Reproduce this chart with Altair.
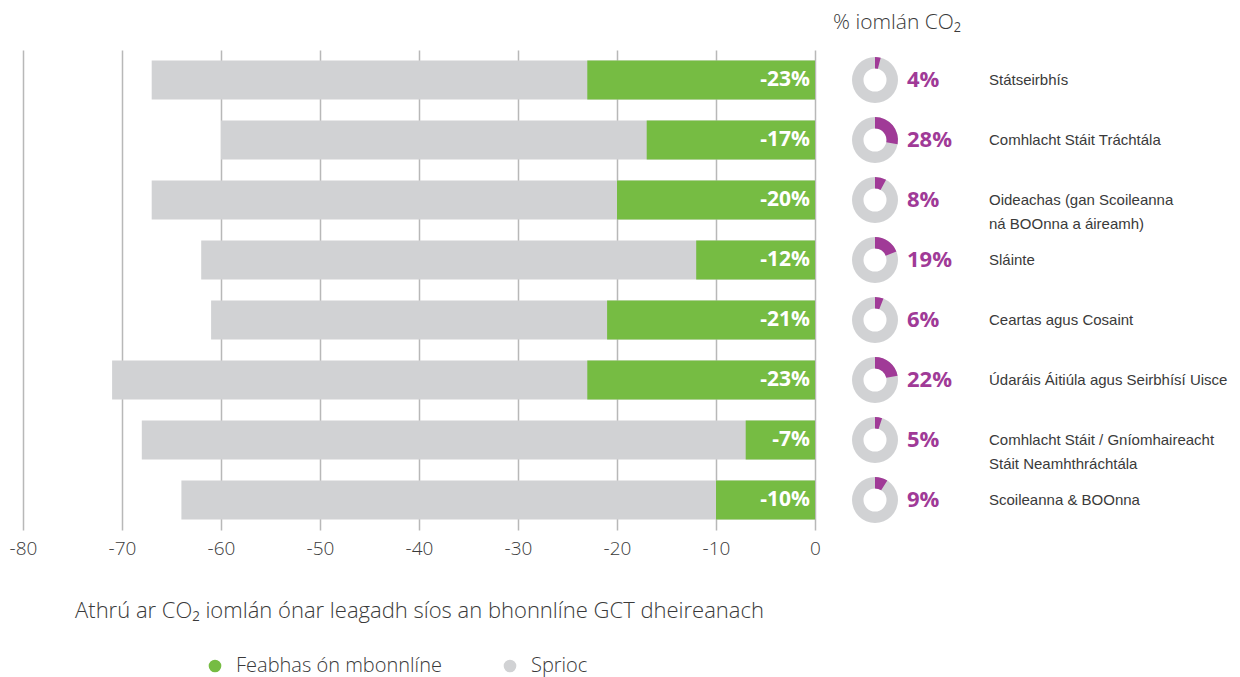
import math
import altair as alt
import pandas as pd

# ---- data ----
categories = [
    "Státseirbhís",
    "Comhlacht Stáit Tráchtála",
    "Oideachas (gan Scoileanna\nná BOOnna a áireamh)",
    "Sláinte",
    "Ceartas agus Cosaint",
    "Údaráis Áitiúla agus Seirbhísí Uisce",
    "Comhlacht Stáit / Gníomhaireacht\nStáit Neamhthráchtála",
    "Scoileanna & BOOnna",
]
target = [-67, -60, -67, -62, -61, -71, -68, -64]
improvement = [-23, -17, -20, -12, -21, -23, -7, -10]
co2_share = [4, 28, 8, 19, 6, 22, 5, 9]
x_ticks = [-80, -70, -60, -50, -40, -30, -20, -10, 0]
series_names = ["Feabhas ón mbonnlíne", "Sprioc"]

GREEN = "#76bc43"
GREY = "#d1d2d4"
PURPLE = "#a03a97"
TEXT = "#3a3a3a"
FONT = "Open Sans"
NARROW = "Liberation Sans"

wide = pd.DataFrame({
    "category": categories,
    "target": target,
    "improvement": improvement,
    "share": co2_share,
})
wide["bar_label"] = [f"{v}%" for v in improvement]
wide["share_label"] = [f"{v}%" for v in co2_share]
wide["zero"] = 0
wide["full"] = 100

long = pd.concat([
    pd.DataFrame({"category": categories, "value": target, "series": series_names[1]}),
    pd.DataFrame({"category": categories, "value": improvement, "series": series_names[0]}),
], ignore_index=True)

y_enc = alt.Y("category:N", sort=categories, axis=None,
              scale=alt.Scale(domain=categories, paddingInner=0.35, paddingOuter=0.175))

bars = alt.Chart(long).mark_bar().encode(
    x=alt.X("value:Q", stack=None,
            scale=alt.Scale(domain=[-80, 0], nice=False, zero=False),
            axis=alt.Axis(values=x_ticks, grid=True, gridColor="#b8b8b8", gridWidth=1.5,
                          domain=False, ticks=False, labelPadding=9, labelFlush=False,
                          labelExpr="'' + datum.value",
                          labelFont=FONT, labelFontSize=19, labelColor=TEXT,
                          labelFontWeight=300,
                          title="Athrú ar CO₂ iomlán ónar leagadh síos an bhonnlíne GCT dheireanach",
                          titleFont=FONT, titleFontSize=22, titleFontWeight=300,
                          titleColor=TEXT, titlePadding=42)),
    y=y_enc,
    color=alt.Color("series:N",
                    scale=alt.Scale(domain=series_names, range=[GREEN, GREY]),
                    legend=alt.Legend(orient="none", direction="horizontal",
                                      legendX=182, legendY=606, title=None,
                                      symbolType="circle", symbolSize=160,
                                      symbolStrokeWidth=0, labelOffset=11,
                                      columnPadding=58, labelFont=FONT,
                                      labelFontSize=20, labelFontWeight=300,
                                      labelColor=TEXT, labelLimit=400)),
)

bar_text = alt.Chart(wide).mark_text(
    align="right", baseline="middle", dx=-5, color="white",
    font=FONT, fontSize=21, fontWeight="bold"
).encode(x=alt.X("zero:Q"), y=y_enc, text="bar_label:N")

theta_scale = alt.Scale(domain=[0, 100], range=[0, 2 * math.pi])

ring = alt.Chart(wide).mark_arc(innerRadius=11.5, outerRadius=23, color=GREY).encode(
    x=alt.value(852), y=y_enc,
    theta=alt.Theta("zero:Q", scale=theta_scale, stack=None),
    theta2="full:Q",
)
slice_ = alt.Chart(wide).mark_arc(innerRadius=11.5, outerRadius=23, color=PURPLE).encode(
    x=alt.value(852), y=y_enc,
    theta=alt.Theta("zero:Q", scale=theta_scale, stack=None),
    theta2="share:Q",
)

share_text = alt.Chart(wide).mark_text(
    align="left", baseline="middle", color=PURPLE,
    font=FONT, fontSize=22, fontWeight="bold"
).encode(x=alt.value(884), y=y_enc, text="share_label:N")

cat_text = alt.Chart(wide).mark_text(
    align="left", baseline="middle", color=TEXT, lineBreak="\n", lineHeight=24,
    font=NARROW, fontSize=15
).encode(x=alt.value(966), y=y_enc, text="category:N")

header = alt.Chart(pd.DataFrame({"t": ["% iomlán CO₂"]})).mark_text(
    align="left", baseline="middle", color=TEXT, font=FONT, fontSize=21, fontWeight=300
).encode(x=alt.value(810), y=alt.value(-27), text="t:N")

chart = alt.layer(bars, bar_text, ring, slice_, share_text, cat_text, header).properties(
    width=792, height=480,
    autosize=alt.AutoSizeParams(type="none"),
    padding={"left": 15, "top": 42, "right": 417, "bottom": 147},
).configure_view(stroke=None)

chart.save("out.html", embed_options={"renderer": "svg", "actions": False})
